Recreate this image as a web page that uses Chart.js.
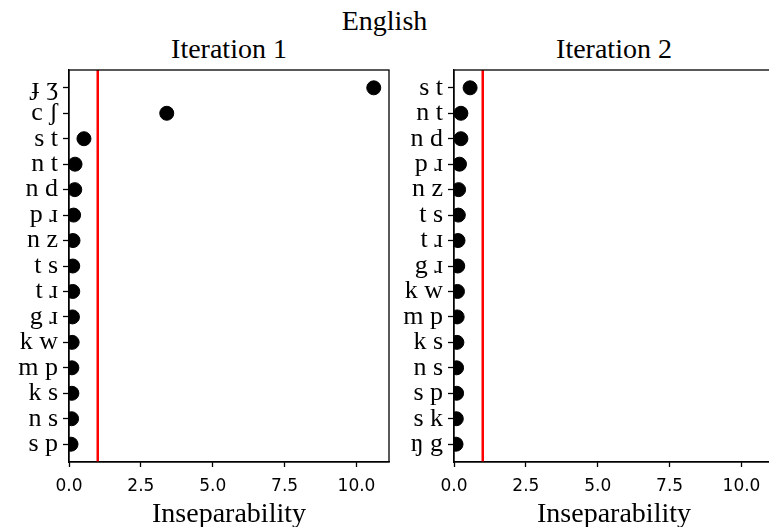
<html>
<head>
<script src="https://cdn.jsdelivr.net/npm/chart.js@4.4.0/dist/chart.umd.min.js"></script>
<style>
body { margin:0; background:#fff; overflow:hidden; width:769px; height:527px; position:relative; }
.ttl { position:absolute; font-family:"Liberation Serif","DejaVu Serif",serif; font-size:28px; line-height:32px; color:#000; text-align:center; white-space:nowrap; }
canvas { position:absolute; top:0; }
</style>
<script>
// values, top row first
var labels1 = ['ɟ ʒ','c ʃ','s t','n t','n d','p ɹ','n z','t s','t ɹ','g ɹ','k w','m p','k s','n s','s p'];
var values1 = [10.6, 3.4, 0.52, 0.21, 0.2, 0.16, 0.14, 0.13, 0.13, 0.12, 0.11, 0.1, 0.1, 0.09, 0.07];
var labels2 = ['s t','n t','n d','p ɹ','n z','t s','t ɹ','g ɹ','k w','m p','k s','n s','s p','s k','ŋ g'];
var values2 = [0.56, 0.24, 0.24, 0.19, 0.16, 0.15, 0.14, 0.13, 0.12, 0.11, 0.1, 0.09, 0.09, 0.08, 0.07];
var xTicks = [0, 2.5, 5, 7.5, 10];
var threshold = 1;
var xMax = 11.13;
</script>
</head>
<body>
<div class="ttl" style="left:0;width:769px;top:5px;">English</div>
<div class="ttl" style="left:69px;width:320px;top:33px;">Iteration 1</div>
<div class="ttl" style="left:454px;width:320px;top:33px;">Iteration 2</div>
<canvas id="c1" width="400" height="527" style="left:0;width:400px;height:527px"></canvas>
<canvas id="c2" width="400" height="527" style="left:385px;width:400px;height:527px"></canvas>
<script>
var frame = {
	id: 'frame',
	afterDraw: function(chart) {
		var a = chart.chartArea, ctx = chart.ctx;
		ctx.save();
		ctx.strokeStyle = '#000';
		ctx.lineWidth = 1.3;
		ctx.strokeRect(a.left, a.top, a.right - a.left, a.bottom - a.top);
		ctx.restore();
	}
};

function makeChart(id, labels, values) {
	var pts = [];
	for (var i = 0; i < values.length; i++) {
		pts.push({x: values[i], y: i});
	}
	var n = labels.length;
	return new Chart(document.getElementById(id).getContext('2d'), {
		type: 'scatter',
		data: {
			datasets: [{
				data: pts,
				backgroundColor: '#000',
				borderColor: '#000',
				pointRadius: 7,
				pointHoverRadius: 7
			}, {
				type: 'line',
				data: [{x: threshold, y: -0.7}, {x: threshold, y: n - 0.3}],
				borderColor: '#ff0000',
				borderWidth: 2.5,
				pointRadius: 0
			}]
		},
		options: {
			animation: false,
			responsive: false,
			events: [],
			layout: { padding: { top: 70, right: 11, left: 0, bottom: 0 } },
			plugins: { legend: { display: false }, tooltip: { enabled: false } },
			scales: {
				x: {
					type: 'linear',
					min: 0,
					max: xMax,
					afterBuildTicks: function(axis) {
						axis.ticks = xTicks.map(function(v) { return {value: v}; });
					},
					afterFit: function(axis) { axis.height = 65; },
					grid: { drawOnChartArea: false, drawTicks: true, tickLength: 5, color: '#000', tickWidth: 1.3 },
					border: { display: true, color: '#000', width: 1.3 },
					ticks: {
						color: '#000',
						padding: 9,
						maxRotation: 0,
						font: { family: 'DejaVu Sans', size: 17 },
						callback: function(v) { return v.toFixed(1); }
					},
					title: {
						display: true,
						text: 'Inseparability',
						color: '#000',
						padding: { top: 0, bottom: 0 },
						font: { family: 'Liberation Serif', size: 28, lineHeight: 0.85 }
					}
				},
				y: {
					type: 'linear',
					reverse: true,
					min: -0.7,
					max: n - 0.3,
					afterBuildTicks: function(axis) {
						var t = [];
						for (var i = 0; i < n; i++) t.push({value: i});
						axis.ticks = t;
					},
					afterFit: function(axis) { axis.width = 69; },
					grid: { drawOnChartArea: false, drawTicks: true, tickLength: 6, color: '#000', tickWidth: 1.3 },
					border: { display: true, color: '#000', width: 1.3 },
					ticks: {
						color: '#000',
						padding: 5,
						autoSkip: false,
						font: { family: 'Liberation Serif', size: 26 },
						callback: function(v) { return labels[v]; }
					}
				}
			}
		},
		plugins: [frame]
	});
}

makeChart('c1', labels1, values1);
makeChart('c2', labels2, values2);
</script>
</body>
</html>
